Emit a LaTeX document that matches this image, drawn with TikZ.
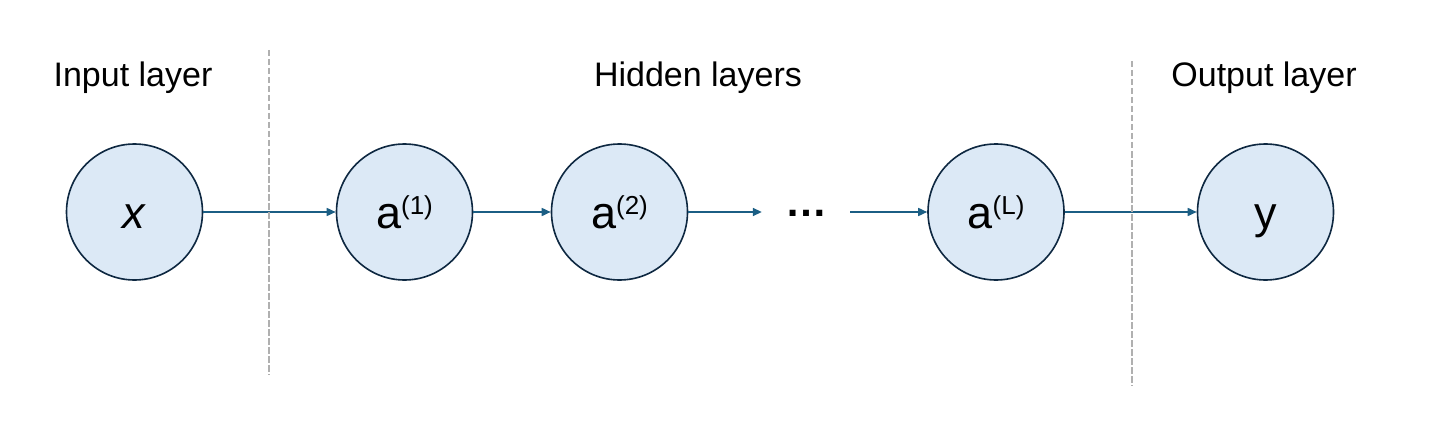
\documentclass[tikz,border=0pt]{standalone}
\usepackage{fontspec}
\setmainfont{Liberation Sans}
\usetikzlibrary{arrows.meta}
\definecolor{nodefill}{HTML}{DCE9F6}
\definecolor{nodeline}{HTML}{0E2841}
\definecolor{arrowblue}{HTML}{1B5E84}
\definecolor{sepgray}{HTML}{B0B0B0}
\newcommand{\act}[1]{a\raisebox{14pt}{\fontsize{26}{30}\selectfont(#1)}}

\begin{document}
\begin{tikzpicture}[x=1pt,y=-1pt,
  neuron/.style={circle, draw=nodeline, line width=1.6pt, fill=nodefill,
    minimum size=136pt, inner sep=0pt, text height=32pt, text depth=0pt,
    font=\fontsize{45}{50}\selectfont},
  dotsbox/.style={minimum width=88pt, inner sep=0pt, text height=9pt,
    text depth=0pt, font=\fontsize{42}{50}\selectfont\bfseries},
  title/.style={anchor=base, font=\fontsize{34}{40}\selectfont},
  link/.style={draw=arrowblue, line width=1.6pt, -{Triangle[length=9pt,width=8pt]}},
  sep/.style={draw=sepgray, line width=1.8pt, dash pattern=on 6.5pt off 2.5pt}]
\useasboundingbox (0,0) rectangle (1440,425);
% layer titles
\node[title] (tin) at (133,87) {Input layer};
\node[title] (thid) at (698,87) {Hidden layers};
\node[title] (tout) at (1264,87) {Output layer};
% units
\node[neuron] (x) at (134.5,212) {\textit{x}};
\node[neuron] (a1) at (404.5,212) {\act{1}};
\node[neuron] (a2) at (619.5,212) {\act{2}};
\node[dotsbox] (dots) at (806,212) {…};
\node[neuron] (aL) at (996,212) {\act{L}};
\node[neuron] (y) at (1265.5,212) {y};
% connections
\draw[link] (x) -- (a1);
\draw[link] (a1) -- (a2);
\draw[link] (a2) -- (dots);
\draw[link] (dots) -- (aL);
\draw[link] (aL) -- (y);
% separators
\coordinate (s1top) at (269,50);
\coordinate (s1bot) at (269,375);
\coordinate (s2top) at (1132,61);
\coordinate (s2bot) at (1132,386);
\draw[sep] (s1top) -- (s1bot);
\draw[sep] (s2top) -- (s2bot);
\end{tikzpicture}
\end{document}
